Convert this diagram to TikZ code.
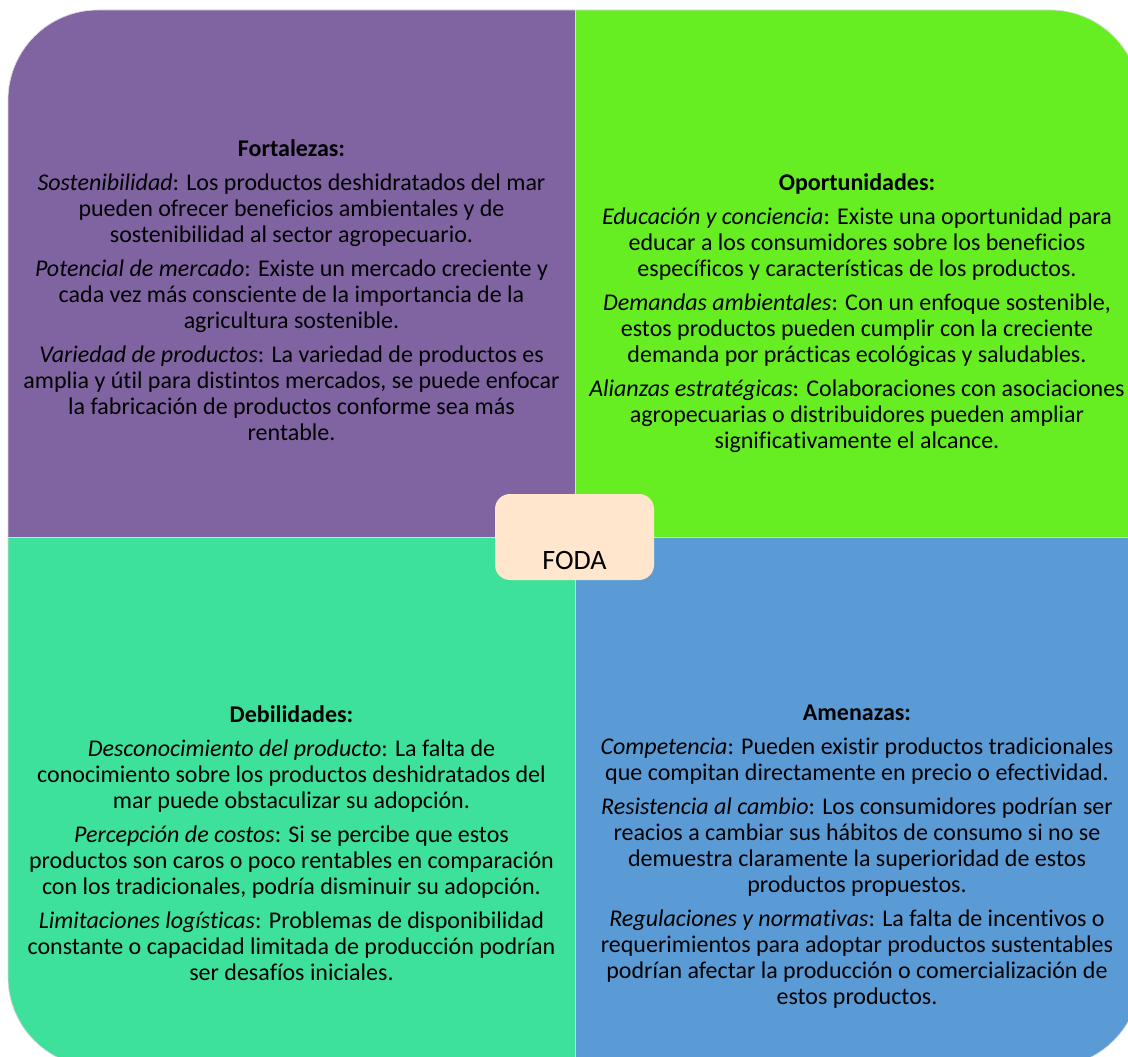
\documentclass[tikz,border=0pt]{standalone}
\usepackage{fontspec}
\setmainfont{Carlito}[Ligatures={NoCommon}]
\definecolor{cpurple}{HTML}{8064A2}
\definecolor{cgreen}{HTML}{66EE22}
\definecolor{cteal}{HTML}{3EE19C}
\definecolor{cblue}{HTML}{5B9BD5}
\definecolor{cpeach}{HTML}{FFE6CC}
\definecolor{cedge}{HTML}{D9D9D9}
\tikzset{
  quadtext/.style={anchor=north, align=center, inner sep=0pt, font=\fontsize{24}{26}\selectfont, text=black},
  fodabox/.style={rectangle, rounded corners=15pt, fill=cpeach, minimum width=159pt, minimum height=86pt, inner sep=0pt},
  fodatext/.style={inner sep=0pt, font=\fontsize{28}{32}\selectfont, text=black},
  edgeline/.style={cedge, line width=0.7pt}
}
\begin{document}
\begin{tikzpicture}[x=1pt,y=-1pt]
\useasboundingbox (0,0) rectangle (1128,1057);
\clip (0,0) rectangle (1128,1057);
% quadrants
\begin{scope}
  \clip (8,10) rectangle (575,537);
  \fill[cpurple, rounded corners=90pt] (8,10) rectangle (1140,1067);
\end{scope}
\begin{scope}
  \clip (575,10) rectangle (1140,537);
  \fill[cgreen, rounded corners=90pt] (8,10) rectangle (1140,1067);
\end{scope}
\begin{scope}
  \clip (8,537) rectangle (575,1067);
  \fill[cteal, rounded corners=90pt] (8,10) rectangle (1140,1067);
\end{scope}
\begin{scope}
  \clip (575,537) rectangle (1140,1067);
  \fill[cblue, rounded corners=90pt] (8,10) rectangle (1140,1067);
\end{scope}
\draw[edgeline, rounded corners=90pt] (8,10) rectangle (1140,1067);
\draw[edgeline] (575,10) -- (575,1067);
\draw[edgeline] (8,537) -- (1140,537);

\node[quadtext] (fort) at (291.5,139) {%
\textbf{Fortalezas:}\\[8pt]
\textit{Sostenibilidad}: Los productos deshidratados del mar\\
pueden ofrecer beneficios ambientales y de\\
sostenibilidad al sector agropecuario.\\[8pt]
\textit{Potencial de mercado}: Existe un mercado creciente y\\
cada vez más consciente de la importancia de la\\
agricultura sostenible.\\[8pt]
\textit{Variedad de productos}: La variedad de productos es\\
amplia y útil para distintos mercados, se puede enfocar\\
la fabricación de productos conforme sea más\\
rentable.};

\node[quadtext] (opor) at (857,173) {%
\textbf{Oportunidades:}\\[8pt]
\textit{Educación y conciencia}: Existe una oportunidad para\\
educar a los consumidores sobre los beneficios\\
específicos y características de los productos.\\[8pt]
\textit{Demandas ambientales}: Con un enfoque sostenible,\\
estos productos pueden cumplir con la creciente\\
demanda por prácticas ecológicas y saludables.\\[8pt]
\textit{Alianzas estratégicas}: Colaboraciones con asociaciones\\
agropecuarias o distribuidores pueden ampliar\\
significativamente el alcance.};

\node[quadtext] (debi) at (291.5,705) {%
\textbf{Debilidades:}\\[8pt]
\textit{Desconocimiento del producto}: La falta de\\
conocimiento sobre los productos deshidratados del\\
mar puede obstaculizar su adopción.\\[8pt]
\textit{Percepción de costos}: Si se percibe que estos\\
productos son caros o poco rentables en comparación\\
con los tradicionales, podría disminuir su adopción.\\[8pt]
\textit{Limitaciones logísticas}: Problemas de disponibilidad\\
constante o capacidad limitada de producción podrían\\
ser desafíos iniciales.};

\node[quadtext] (amen) at (857,705) {%
\textbf{Amenazas:}\\[8pt]
\textit{Competencia}: Pueden existir productos tradicionales\\
que compitan directamente en precio o efectividad.\\[8pt]
\textit{Resistencia al cambio}: Los consumidores podrían ser\\
reacios a cambiar sus hábitos de consumo si no se\\
demuestra claramente la superioridad de estos\\
productos propuestos.\\[8pt]
\textit{Regulaciones y normativas}: La falta de incentivos o\\
requerimientos para adoptar productos sustentables\\
podrían afectar la producción o comercialización de\\
estos productos.};

\node[fodabox] (foda) at (574.5,537) {};
\node[fodatext] (fodalabel) at (574.5,561) {FODA};
\end{tikzpicture}
\end{document}
